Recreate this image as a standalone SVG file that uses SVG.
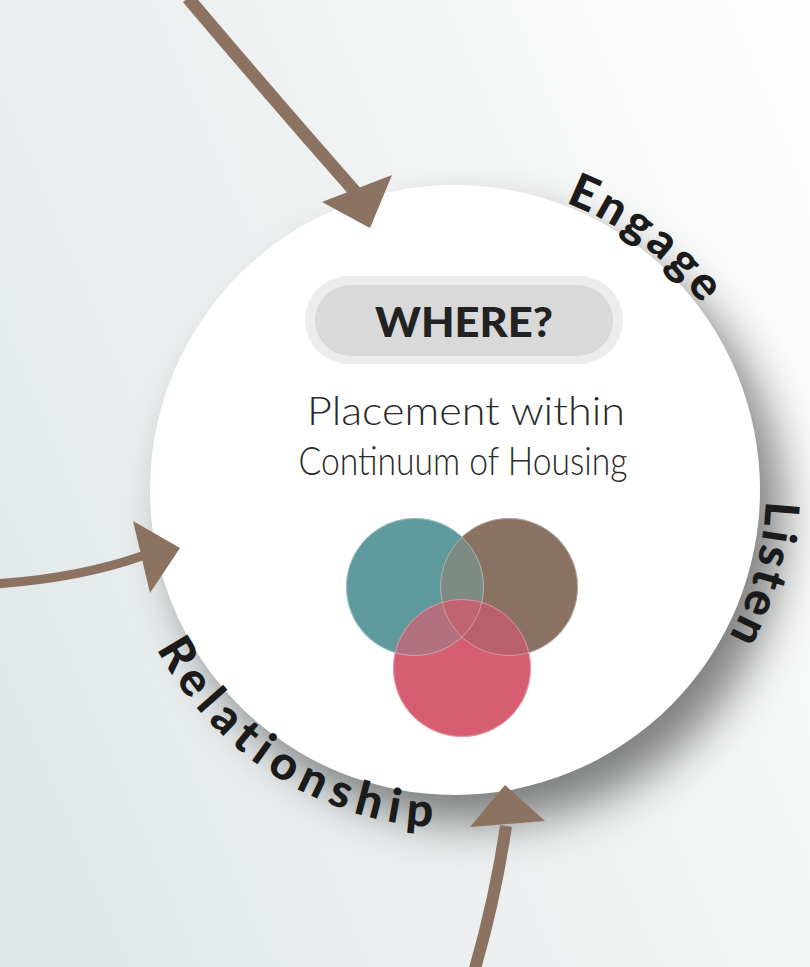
<svg xmlns="http://www.w3.org/2000/svg" width="810" height="967" viewBox="0 0 810 967">
  <defs>
    <linearGradient id="bg" x1="0" y1="0.7" x2="1" y2="0.2">
      <stop offset="0" stop-color="#e2e8e9"/>
      <stop offset="0.55" stop-color="#f0f2f2"/>
      <stop offset="1" stop-color="#fdfdfd"/>
    </linearGradient>
    <filter id="blur" x="-40%" y="-40%" width="180%" height="180%">
      <feGaussianBlur stdDeviation="23"/>
    </filter>
    <clipPath id="cBrown"><circle cx="509" cy="587" r="69"/></clipPath>
    <clipPath id="cRed"><circle cx="462" cy="668" r="69"/></clipPath>
    <path id="arcEngage" d="M 565.4 202.5 A 310 310 0 0 1 765 490"/>
    <path id="arcListen" d="M 765.6 500.8 A 311 311 0 0 1 610.5 759.3"/>
    <path id="arcRel" d="M 156.6 648.7 A 338 338 0 0 0 513.7 822.9"/>
    <style>
      .arrow { fill: none; stroke: #8b7261; stroke-linecap: butt; }
      .head { fill: #8b7261; }
      .label { font-family: Lato, "Liberation Sans", sans-serif; font-weight: 900; font-size: 47px; fill: #1b1b1b; }
      .desc { font-family: Lato, "Liberation Sans", sans-serif; font-weight: 300; font-size: 39px; fill: #2a2a2a; text-anchor: middle; }
      .edge { fill: none; stroke: #ffffff; stroke-opacity: 0.35; stroke-width: 1; }
    </style>
  </defs>

  <rect x="0" y="0" width="810" height="967" fill="url(#bg)"/>

  <g id="hub">
    <circle cx="478" cy="518" r="305" fill="#000" fill-opacity="0.48" filter="url(#blur)"/>
    <circle cx="455" cy="490" r="305" fill="#ffffff"/>
  </g>

  <g id="connectors">
    <path class="arrow" stroke-width="13" d="M 188 -2 Q 270 95 357 194"/>
    <polygon class="head" points="370,228 322,202 392,175"/>
    <path class="arrow" stroke-width="9" d="M -5 584 Q 80 578 142 556"/>
    <polygon class="head" points="180,548 133,521 150,593"/>
    <path class="arrow" stroke-width="12" d="M 474 972 Q 495 900 506 826"/>
    <polygon class="head" points="505,785 470,827 545,821"/>
  </g>

  <g id="where">
    <rect x="305" y="276" width="318" height="88" rx="44" fill="#ececec"/>
    <rect x="315" y="285" width="298" height="71" rx="35.5" fill="#d9d9d9"/>
    <text x="464" y="337" text-anchor="middle" textLength="178" lengthAdjust="spacingAndGlyphs" font-family="Lato, 'Liberation Sans', sans-serif" font-weight="900" font-size="41" fill="#222">WHERE?</text>
  </g>

  <g id="placement">
    <text class="desc" x="466" y="425" textLength="318" lengthAdjust="spacingAndGlyphs">Placement within</text>
    <text class="desc" x="463" y="475" textLength="329" lengthAdjust="spacingAndGlyphs">Continuum of Housing</text>
  </g>

  <g id="venn">
    <circle cx="415" cy="587" r="69" fill="#5f9a9e"/>
    <circle cx="509" cy="587" r="69" fill="#8a7262"/>
    <circle cx="415" cy="587" r="69" fill="#7c8c82" clip-path="url(#cBrown)"/>
    <circle cx="462" cy="668" r="69" fill="#d65e70"/>
    <circle cx="415" cy="587" r="69" fill="#b2717f" clip-path="url(#cRed)"/>
    <circle cx="509" cy="587" r="69" fill="#b9606a" clip-path="url(#cRed)"/>
    <g clip-path="url(#cRed)">
      <circle cx="415" cy="587" r="69" fill="#c0646f" clip-path="url(#cBrown)"/>
    </g>
    <circle class="edge" cx="415" cy="587" r="68.5"/>
    <circle class="edge" cx="509" cy="587" r="68.5"/>
    <circle class="edge" cx="462" cy="668" r="68.5"/>
  </g>

  <g id="engage">
    <text class="label" letter-spacing="4"><textPath href="#arcEngage">Engage</textPath></text>
  </g>
  <g id="listen">
    <text class="label" font-size="46" letter-spacing="3"><textPath href="#arcListen">Listen</textPath></text>
  </g>
  <g id="relationship">
    <text class="label" letter-spacing="7.5"><textPath href="#arcRel">Relationship</textPath></text>
  </g>
</svg>
